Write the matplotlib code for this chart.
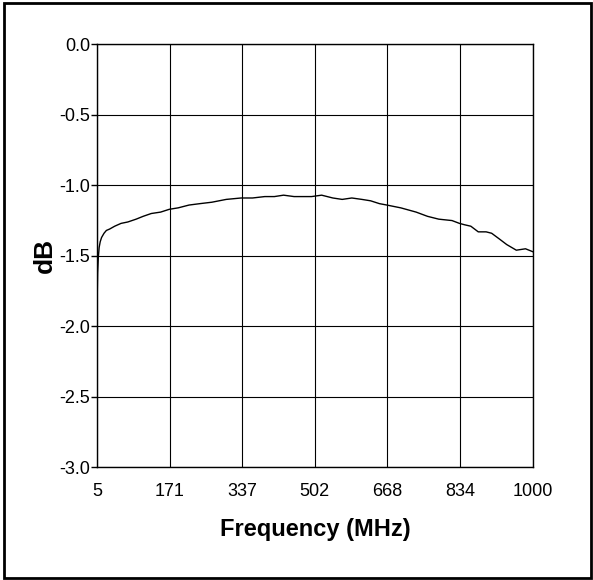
import matplotlib
matplotlib.use('Agg')
import matplotlib.pyplot as plt
from matplotlib.patches import Rectangle

# frequency response (MHz, dB)
freq = [5, 6, 7.6, 9.5, 11.9, 15, 20.6, 26, 33.5, 45, 59.5, 75, 94, 110, 128.6, 150, 170,
        190, 215, 240, 267, 300, 334, 360, 388, 410, 431, 455, 474, 495, 518, 543.6,
        565, 587, 610, 630, 650, 667, 699, 734, 760, 785.6, 816, 833, 845, 859, 876,
        894, 906.6, 924, 941, 963, 984, 1000]
db = [-1.80, -1.62, -1.51, -1.44, -1.40, -1.37, -1.34, -1.32, -1.31, -1.29, -1.27, -1.26,
      -1.24, -1.22, -1.20, -1.19, -1.17, -1.16, -1.14, -1.13, -1.12, -1.10, -1.09, -1.09,
      -1.08, -1.08, -1.07, -1.08, -1.08, -1.08, -1.07, -1.09, -1.10, -1.09, -1.10, -1.11,
      -1.13, -1.14, -1.16, -1.19, -1.22, -1.24, -1.25, -1.27, -1.28, -1.29, -1.33, -1.33,
      -1.34, -1.38, -1.42, -1.46, -1.45, -1.47]

xticks = [5, 171, 337, 502, 668, 834, 1000]
yticks = [0.0, -0.5, -1.0, -1.5, -2.0, -2.5, -3.0]

plt.rcParams['font.family'] = ['Liberation Sans', 'DejaVu Sans']

fig = plt.figure(figsize=(5.93, 5.80), dpi=100)
ax = fig.add_axes([0.1639, 0.194, 0.7341, 0.7298])

ax.plot(freq, db, color='black', linewidth=1.0)

ax.set_xlim(5, 1000)
ax.set_ylim(-3.0, 0.0)
ax.set_xticks(xticks)
ax.set_xticklabels([str(t) for t in xticks], fontsize=13)
ax.set_yticks(yticks)
ax.set_yticklabels(['%.1f' % t for t in yticks], fontsize=13)
ax.tick_params(axis='x', length=0, pad=11)
ax.tick_params(axis='y', length=4, width=1, pad=1)
ax.grid(True, color='black', linewidth=0.8)
for s in ax.spines.values():
    s.set_linewidth(1.0)

ax.set_xlabel('Frequency (MHz)', fontsize=17, fontweight='bold', labelpad=13)
ax.set_ylabel('dB', fontsize=19, fontweight='bold', labelpad=2)

# outer frame
fig.patches.append(Rectangle((4 / 593, 2 / 580), 587 / 593, 575 / 580,
                             transform=fig.transFigure, fill=False,
                             edgecolor='black', linewidth=2))

fig.savefig('out.png', dpi=100)
